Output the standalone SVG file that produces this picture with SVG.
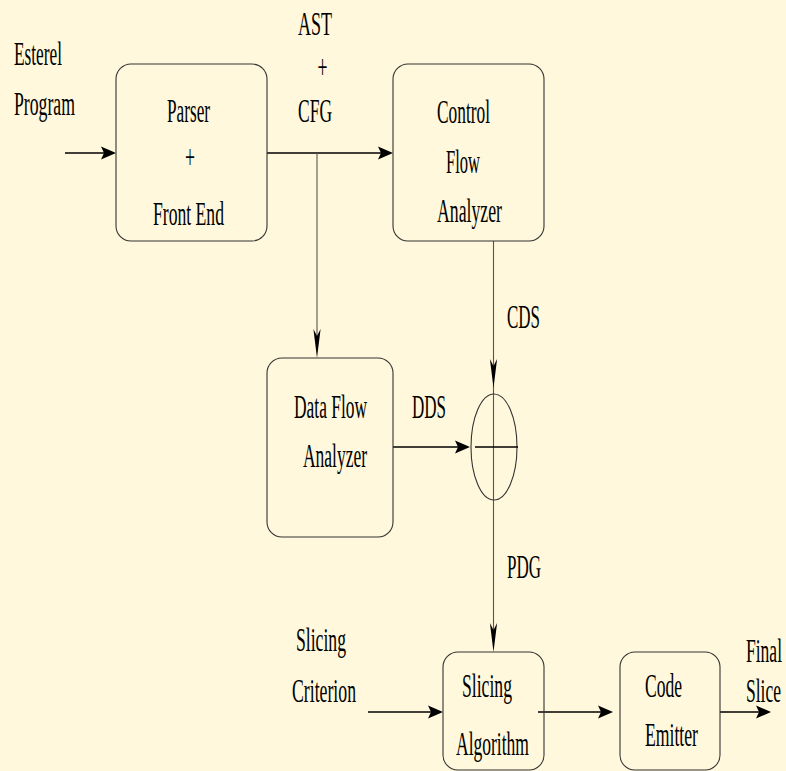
<svg xmlns="http://www.w3.org/2000/svg" width="786" height="771" viewBox="0 0 786 771">
<style>
.bg{fill:#FFF8DC}
.box{fill:none;stroke:#333;stroke-width:1.1}
.t{font-family:"Liberation Serif","Times New Roman",serif;font-size:34px;fill:#000}
.h{stroke:#000;stroke-width:1.6;fill:none}
.v{stroke:#555;stroke-width:1.1;fill:none}
.ah{fill:#000}
</style>
<defs>
<path id="fa" d="M0,0 L-15,-6.5 L-12,0 L-15,6.5 Z"/>
<path id="na" d="M0,0 L-3.6,-29 L0,-22 L3.6,-29 Z"/>
</defs>
<rect class="bg" x="0" y="0" width="786" height="771"/>
<g id="connectors">
<line class="h" x1="65" y1="153" x2="106" y2="153"/>
<use href="#fa" class="ah" transform="translate(116,153)"/>
<line class="h" x1="267" y1="153" x2="383" y2="153"/>
<use href="#fa" class="ah" transform="translate(393,153)"/>
<line class="v" x1="317" y1="153" x2="317" y2="340"/>
<use href="#na" class="ah" transform="translate(317,358)"/>
<line class="v" x1="493.5" y1="241" x2="493.5" y2="640"/>
<use href="#na" class="ah" transform="translate(493.5,388)"/>
<use href="#na" class="ah" transform="translate(493.5,652)"/>
<line class="h" x1="393" y1="447" x2="460" y2="447"/>
<use href="#fa" class="ah" transform="translate(470,447)"/>
<line class="h" x1="368" y1="712" x2="433" y2="712"/>
<use href="#fa" class="ah" transform="translate(443,712)"/>
<line class="h" x1="538" y1="712" x2="603" y2="712"/>
<use href="#fa" class="ah" transform="translate(613,712)"/>
<line class="h" x1="720" y1="712" x2="761" y2="712"/>
<use href="#fa" class="ah" transform="translate(771,712)"/>
</g>
<g id="labels">
<text class="t" transform="matrix(0.5,0,0,1,14,65)" textLength="96" lengthAdjust="spacingAndGlyphs">Esterel</text>
<text class="t" transform="matrix(0.5,0,0,1,14,115)" textLength="122" lengthAdjust="spacingAndGlyphs">Program</text>
<text class="t" transform="matrix(0.5,0,0,1,298,35)" textLength="68" lengthAdjust="spacingAndGlyphs">AST</text>
<text class="t" transform="matrix(0.5,0,0,1,317.5,78)" textLength="20" lengthAdjust="spacingAndGlyphs">+</text>
<text class="t" transform="matrix(0.5,0,0,1,298,122)" textLength="68" lengthAdjust="spacingAndGlyphs">CFG</text>
<text class="t" transform="matrix(0.5,0,0,1,507,328)" textLength="66" lengthAdjust="spacingAndGlyphs">CDS</text>
<text class="t" transform="matrix(0.5,0,0,1,412,418)" textLength="68" lengthAdjust="spacingAndGlyphs">DDS</text>
<text class="t" transform="matrix(0.5,0,0,1,507,578)" textLength="68" lengthAdjust="spacingAndGlyphs">PDG</text>
<text class="t" transform="matrix(0.5,0,0,1,296,651)" textLength="100" lengthAdjust="spacingAndGlyphs">Slicing</text>
<text class="t" transform="matrix(0.5,0,0,1,292,702)" textLength="128" lengthAdjust="spacingAndGlyphs">Criterion</text>
<text class="t" transform="matrix(0.5,0,0,1,746,662)" textLength="72" lengthAdjust="spacingAndGlyphs">Final</text>
<text class="t" transform="matrix(0.5,0,0,1,746,702)" textLength="70" lengthAdjust="spacingAndGlyphs">Slice</text>
</g>
<g id="parser">
<rect class="box" x="116" y="64" width="151" height="177" rx="15"/>
<text class="t" transform="matrix(0.5,0,0,1,167,122)" textLength="86" lengthAdjust="spacingAndGlyphs">Parser</text>
<text class="t" transform="matrix(0.5,0,0,1,185,168)" textLength="20" lengthAdjust="spacingAndGlyphs">+</text>
<text class="t" transform="matrix(0.5,0,0,1,153,225)" textLength="142" lengthAdjust="spacingAndGlyphs">Front End</text>
</g>
<g id="control-flow-analyzer">
<rect class="box" x="393" y="64" width="151" height="177" rx="15"/>
<text class="t" transform="matrix(0.5,0,0,1,437,123)" textLength="106" lengthAdjust="spacingAndGlyphs">Control</text>
<text class="t" transform="matrix(0.5,0,0,1,446,173)" textLength="68" lengthAdjust="spacingAndGlyphs">Flow</text>
<text class="t" transform="matrix(0.5,0,0,1,437,222)" textLength="130" lengthAdjust="spacingAndGlyphs">Analyzer</text>
</g>
<g id="data-flow-analyzer">
<rect class="box" x="267" y="358" width="126" height="179" rx="15"/>
<text class="t" transform="matrix(0.5,0,0,1,294,418)" textLength="146" lengthAdjust="spacingAndGlyphs">Data Flow</text>
<text class="t" transform="matrix(0.5,0,0,1,303,467)" textLength="128" lengthAdjust="spacingAndGlyphs">Analyzer</text>
</g>
<g id="combine">
<ellipse cx="494" cy="447" rx="23" ry="53" fill="none" stroke="#333" stroke-width="1.1"/>
<line class="h" x1="475" y1="447" x2="518" y2="447"/>
</g>
<g id="slicing-algorithm">
<rect class="box" x="443" y="652" width="101" height="118" rx="15"/>
<text class="t" transform="matrix(0.5,0,0,1,462,697)" textLength="100" lengthAdjust="spacingAndGlyphs">Slicing</text>
<text class="t" transform="matrix(0.5,0,0,1,456,755)" textLength="146" lengthAdjust="spacingAndGlyphs">Algorithm</text>
</g>
<g id="code-emitter">
<rect class="box" x="620" y="652" width="100" height="118" rx="15"/>
<text class="t" transform="matrix(0.5,0,0,1,645,697)" textLength="74" lengthAdjust="spacingAndGlyphs">Code</text>
<text class="t" transform="matrix(0.5,0,0,1,645,746)" textLength="106" lengthAdjust="spacingAndGlyphs">Emitter</text>
</g>
</svg>
